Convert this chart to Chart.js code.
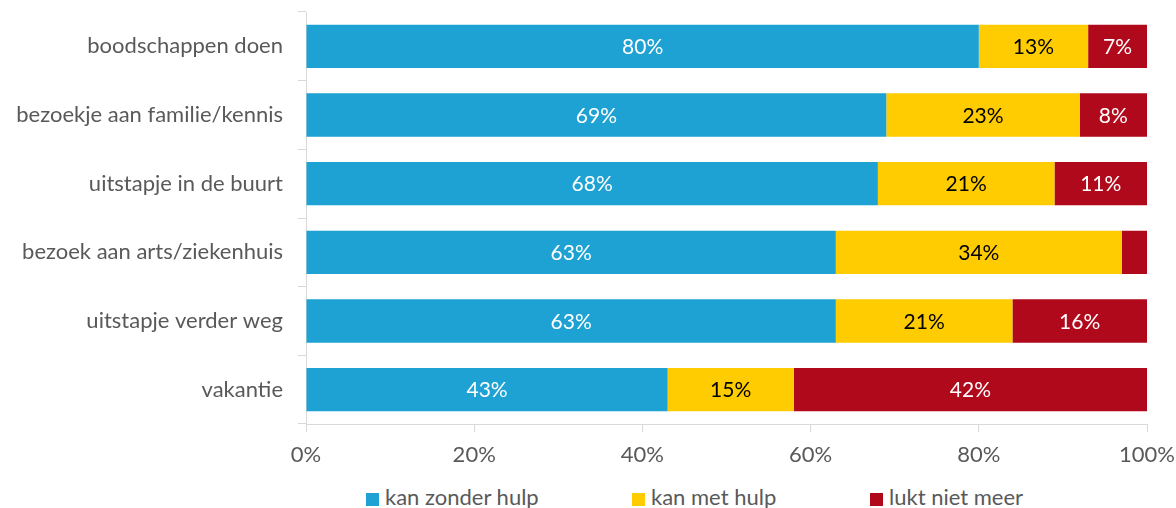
<!DOCTYPE html>
<html>
<head>
<meta charset="utf-8">
<script src="https://cdn.jsdelivr.net/npm/chart.js@4"></script>
<style>
  html, body { margin: 0; padding: 0; background: #fff; }
  #wrap { position: relative; width: 1176px; height: 508px; }
  #chart { display: block; }
  .legend { position: absolute; top: 483px; left: 0; width: 1176px; height: 28px;
            font-family: Lato, "Open Sans", sans-serif; font-size: 22px; color: #595959; }
  .legend span.item { position: absolute; white-space: nowrap; line-height: 28px; }
  .legend span.box { display: inline-block; width: 13px; height: 13px; margin-right: 6px; vertical-align: -1px; }
</style>
</head>
<body>
<div id="wrap">
  <canvas id="chart" width="1176" height="470"></canvas>
  <div class="legend" id="legend"></div>
</div>
<script>
const categories = [
  'boodschappen doen',
  'bezoekje aan familie/kennis',
  'uitstapje in de buurt',
  'bezoek aan arts/ziekenhuis',
  'uitstapje verder weg',
  'vakantie'
];
const zonderHulp = [80, 69, 68, 63, 63, 43];
const metHulp = [13, 23, 21, 34, 21, 15];
const luktNiet = [7, 8, 11, 3, 16, 42];
const xTicks = [0, 20, 40, 60, 80, 100];

const seriesNames = ['kan zonder hulp', 'kan met hulp', 'lukt niet meer'];
const seriesColors = ['#1da2d3', '#fecc00', '#b0091c'];
const labelColors = ['#ffffff', '#000000', '#ffffff'];

const FONT = 'Lato, "Open Sans", sans-serif';

// percentages inside the bars, small slices stay unlabeled
const barLabels = {
  id: 'barLabels',
  afterDatasetsDraw(chart) {
    const ctx = chart.ctx;
    ctx.save();
    ctx.font = '21px ' + FONT;
    ctx.textAlign = 'center';
    ctx.textBaseline = 'middle';
    chart.data.datasets.forEach((ds, i) => {
      const meta = chart.getDatasetMeta(i);
      meta.data.forEach((bar, j) => {
        const v = ds.data[j];
        if (v < 5) return;
        ctx.fillStyle = labelColors[i];
        ctx.fillText(v + '%', (bar.x + bar.base) / 2, bar.y + 1);
      });
    });
    ctx.restore();
  }
};

new Chart(document.getElementById('chart'), {
  type: 'bar',
  data: {
    labels: categories,
    datasets: [zonderHulp, metHulp, luktNiet].map((d, i) => ({
      label: seriesNames[i],
      data: d,
      backgroundColor: seriesColors[i],
      borderWidth: 0,
      barPercentage: 1,
      categoryPercentage: 0.63
    }))
  },
  options: {
    indexAxis: 'y',
    responsive: false,
    animation: false,
    layout: { padding: { top: 12, right: 29, left: 0, bottom: 0 } },
    plugins: { legend: { display: false }, tooltip: { enabled: false } },
    scales: {
      x: {
        stacked: true,
        min: 0, max: 100,
        afterBuildTicks(scale) { scale.ticks = xTicks.map(v => ({ value: v })); },
        afterFit(scale) { scale.height = 46; scale.paddingLeft = 0; scale.paddingRight = 0; },
        grid: { drawOnChartArea: false, drawTicks: true, tickLength: 8, color: '#d9d9d9' },
        border: { color: '#d9d9d9', width: 1 },
        ticks: { color: '#595959', font: { family: FONT, size: 22 }, padding: 10, callback: v => v + '%' }
      },
      y: {
        stacked: true,
        afterFit(scale) { scale.width = 306; scale.paddingTop = 0; scale.paddingBottom = 0; },
        grid: { offset: true, drawOnChartArea: false, drawTicks: true, tickLength: 8, color: '#d9d9d9' },
        border: { color: '#d9d9d9', width: 1 },
        ticks: { color: '#595959', font: { family: FONT, size: 22 }, padding: 15 }
      }
    }
  },
  plugins: [barLabels]
});

// legend row below the chart
const legendPos = [366, 632, 870];
const legend = document.getElementById('legend');
seriesNames.forEach((name, i) => {
  const item = document.createElement('span');
  item.className = 'item';
  item.style.left = legendPos[i] + 'px';
  item.innerHTML = '<span class="box" style="background:' + seriesColors[i] + '"></span>' + name;
  legend.appendChild(item);
});
</script>
</body>
</html>
